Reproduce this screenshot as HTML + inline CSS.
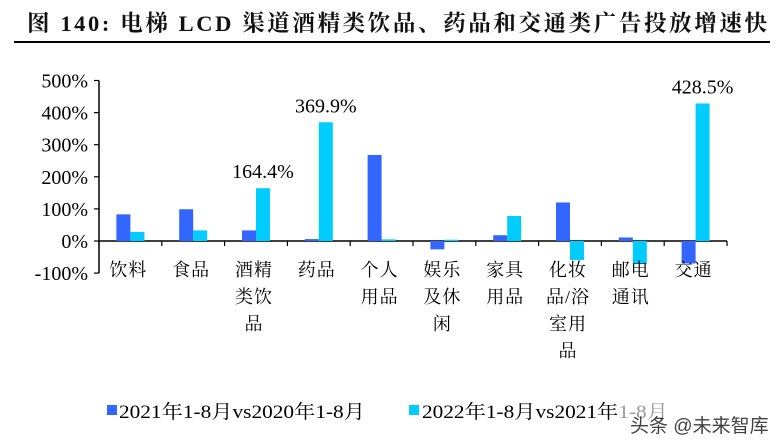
<!DOCTYPE html>
<html><head><meta charset="utf-8"><style>
html,body{margin:0;padding:0;background:#fff;}
body{width:783px;height:446px;overflow:hidden;position:relative;}
svg{position:absolute;left:0;top:0;}
</style></head><body>
<svg id="chart" width="783" height="446" xmlns="http://www.w3.org/2000/svg">
<text x="27" y="31" textLength="740" lengthAdjust="spacing" font-family="'Liberation Serif','Noto Serif CJK SC',serif" font-size="22.5" font-weight="bold" fill="#111">图 140: 电梯 LCD 渠道酒精类饮品、药品和交通类广告投放增速快</text>
<rect x="14" y="41" width="756" height="2" fill="#000"/>
<g id="axes"></g>
<g id="bars"></g>
<g id="labels"></g>
<g>
<rect x="107" y="405" width="10" height="10" fill="#3366ff"/>
<text x="119" y="418" textLength="246" lengthAdjust="spacingAndGlyphs" font-family="'Liberation Serif','Noto Serif CJK SC',serif" font-size="19" fill="#000">2021年1-8月vs2020年1-8月</text>
<rect x="409" y="405" width="10" height="10" fill="#00ccff"/>
<text x="422" y="418" textLength="246" lengthAdjust="spacingAndGlyphs" font-family="'Liberation Serif','Noto Serif CJK SC',serif" font-size="19" fill="#000">2022年1-8月vs2021年1-8月</text>
</g>
<rect x="620" y="400" width="163" height="46" fill="#fff" opacity="0.6"/>
<text x="630" y="432" font-family="'Liberation Sans','Noto Sans CJK SC',sans-serif" font-size="19" fill="#222" opacity="0.85">头条 @未来智库</text>
</svg>
<script>
const categories=[["饮料"],["食品"],["酒精","类饮","品"],["药品"],["个人","用品"],["娱乐","及休","闲"],["家具","用品"],["化妆","品/浴","室用","品"],["邮电","通讯"],["交通"]];
const series2021=[83,99,33,6,268,-26,18,120,11,-70];
const series2022=[28,33,164.4,369.9,5,4,78,-59,-70,428.5];
const valueLabels=[null,null,"164.4%","369.9%",null,null,null,null,null,"428.5%"];
const yTicks=[-100,0,100,200,300,400,500];
const NS="http://www.w3.org/2000/svg";
const X0=99,X1=727,Y0=241,PX=32.1;
const bw=(X1-X0)/categories.length;
function y(v){return Y0-v*PX/100;}
function mk(t,a,p){const e=document.createElementNS(NS,t);for(const k in a)e.setAttribute(k,a[k]);p.appendChild(e);return e;}
const axes=document.getElementById('axes'),bars=document.getElementById('bars'),labels=document.getElementById('labels');
const font="'Liberation Serif','Noto Serif CJK SC',serif";
const ya=mk('line',{x1:X0,y1:y(500),x2:X0,y2:y(-100),stroke:'#000','stroke-width':1.5},axes);


const xa=mk('line',{x1:X0,y1:Y0,x2:X1,y2:Y0,stroke:'#000','stroke-width':1.5},axes);


yTicks.forEach(v=>{
 mk('line',{x1:X0-5,y1:y(v),x2:X0,y2:y(v),stroke:'#000','stroke-width':1.2},axes);
 const t=mk('text',{x:X0-11,y:y(v)+7,'text-anchor':'end','font-family':font,'font-size':20},axes);
 t.textContent=v+'%';
 
 
});
for(let i=0;i<=categories.length;i++){mk('line',{x1:X0+i*bw,y1:Y0,x2:X0+i*bw,y2:Y0+5,stroke:'#000','stroke-width':1.2},axes);}
categories.forEach((c,i)=>{
 const cx=X0+(i+0.5)*bw;
 [[series2021[i],'#3366ff',-14,'bar-2021'],[series2022[i],'#00ccff',0,'bar-2022']].forEach(([v,col,off,nm])=>{
  const r=mk('rect',{x:cx+off,y:Math.min(y(v),Y0),width:14,height:Math.abs(y(v)-Y0),fill:col},bars);
  
  
 });
 if(valueLabels[i]){
  const t=mk('text',{x:cx+7,y:y(series2022[i])-10,'text-anchor':'middle','font-family':font,'font-size':20},labels);
  t.textContent=valueLabels[i];
  
  
 }
 c.forEach((line,j)=>{
  const t=mk('text',{x:cx-2,y:276+j*27,'text-anchor':'middle','font-family':font,'font-size':18,'letter-spacing':1},labels);
  t.textContent=line;
  
  
 });
});
</script>
</body></html>
